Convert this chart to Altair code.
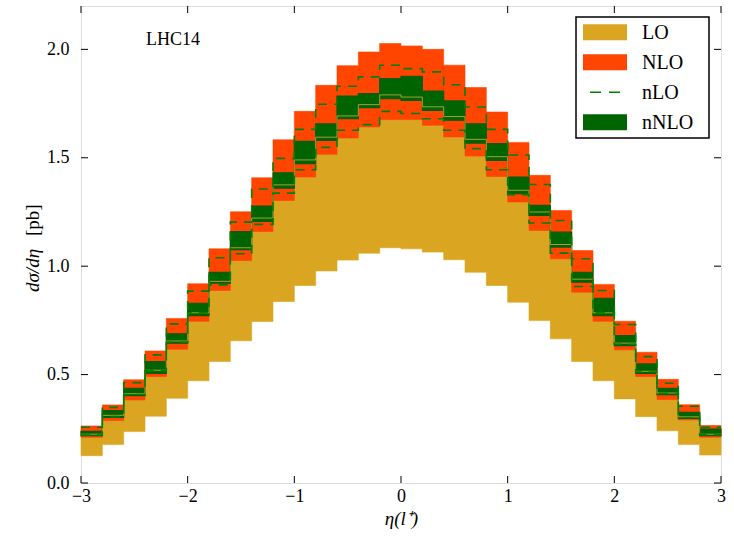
import altair as alt
import pandas as pd

# bin edges (eta), 30 bins of width 0.2
edges = [-3.0, -2.8, -2.6, -2.4, -2.2, -2.0, -1.8, -1.6, -1.4, -1.2, -1.0,
         -0.8, -0.6, -0.4, -0.2, 0.0, 0.2, 0.4, 0.6, 0.8, 1.0,
         1.2, 1.4, 1.6, 1.8, 2.0, 2.2, 2.4, 2.6, 2.8, 3.0]

LO_lo = [0.126, 0.177, 0.237, 0.308, 0.391, 0.472, 0.560, 0.656, 0.745, 0.837,
         0.911, 0.978, 1.028, 1.060, 1.085, 1.080, 1.065, 1.030, 0.972, 0.911,
         0.834, 0.749, 0.665, 0.560, 0.472, 0.388, 0.306, 0.241, 0.177, 0.129]
LO_hi = [0.225, 0.312, 0.412, 0.520, 0.655, 0.785, 0.930, 1.085, 1.222, 1.375,
         1.490, 1.595, 1.693, 1.745, 1.790, 1.780, 1.735, 1.690, 1.585, 1.505,
         1.350, 1.250, 1.100, 0.940, 0.785, 0.645, 0.515, 0.415, 0.305, 0.225]
NLO_lo = [0.211, 0.288, 0.383, 0.491, 0.617, 0.746, 0.888, 1.026, 1.160, 1.303,
          1.411, 1.516, 1.591, 1.642, 1.676, 1.676, 1.650, 1.596, 1.508, 1.414,
          1.296, 1.165, 1.034, 0.880, 0.746, 0.614, 0.491, 0.385, 0.291, 0.211]
NLO_hi = [0.263, 0.360, 0.476, 0.609, 0.759, 0.919, 1.080, 1.251, 1.408, 1.583,
          1.714, 1.834, 1.925, 1.988, 2.027, 2.016, 2.000, 1.927, 1.824, 1.711,
          1.571, 1.419, 1.257, 1.072, 0.916, 0.746, 0.603, 0.478, 0.361, 0.265]
nLO_lo = [0.221, 0.306, 0.408, 0.517, 0.649, 0.785, 0.914, 1.057, 1.193, 1.337,
          1.445, 1.548, 1.627, 1.653, 1.714, 1.704, 1.680, 1.627, 1.542, 1.445,
          1.330, 1.199, 1.060, 0.906, 0.785, 0.640, 0.512, 0.412, 0.301, 0.222]
nLO_hi = [0.257, 0.349, 0.463, 0.591, 0.734, 0.885, 1.039, 1.203, 1.356, 1.497,
          1.631, 1.747, 1.830, 1.873, 1.927, 1.911, 1.896, 1.837, 1.734, 1.631,
          1.513, 1.377, 1.211, 1.034, 0.888, 0.731, 0.583, 0.460, 0.354, 0.257]
nNLO_lo = [0.218, 0.303, 0.403, 0.506, 0.645, 0.772, 0.922, 1.076, 1.206, 1.360,
           1.473, 1.580, 1.680, 1.731, 1.773, 1.765, 1.719, 1.673, 1.568, 1.488,
           1.334, 1.234, 1.088, 0.926, 0.772, 0.634, 0.506, 0.408, 0.298, 0.218]
nNLO_hi = [0.238, 0.334, 0.437, 0.560, 0.688, 0.829, 0.971, 1.160, 1.277, 1.431,
           1.576, 1.657, 1.785, 1.796, 1.865, 1.876, 1.808, 1.762, 1.657, 1.565,
           1.411, 1.280, 1.157, 0.972, 0.852, 0.680, 0.549, 0.437, 0.326, 0.249]

x_ticks = [-3, -2, -1, 0, 1, 2, 3]
y_ticks = [0.0, 0.5, 1.0, 1.5, 2.0]

legend_labels = ["LO", "NLO", "nLO", "nNLO"]
C_LO, C_NLO, C_nLO, C_nNLO = "#DAA520", "#FF4500", "#008000", "#006400"

FONT = "Liberation Serif"
W, H = 640, 477


def ext(v):
    return list(v) + [v[-1]]


df = pd.DataFrame({
    "x": edges,
    "lo_lo": ext(LO_lo), "lo_hi": ext(LO_hi),
    "nlo_lo": ext(NLO_lo), "nlo_hi": ext(NLO_hi),
    "nl_lo": ext(nLO_lo), "nl_hi": ext(nLO_hi),
    "nn_lo": ext(nNLO_lo), "nn_hi": ext(nNLO_hi),
})

xscale = alt.Scale(domain=[-3, 3], nice=False, zero=False)
yscale = alt.Scale(domain=[0, 2.2], nice=False, zero=True)
xaxis = alt.Axis(values=x_ticks, format="d", ticks=False, tickSize=0, domain=False,
                 grid=False, labelFont=FONT, labelFontSize=18, labelPadding=4,
                 labelFlush=False, labelOverlap=False, labelColor="black",
                 titleFont=FONT, titleFontSize=19, titleFontWeight="normal",
                 titleFontStyle="italic", titlePadding=4, titleColor="black")
yaxis = alt.Axis(values=y_ticks, format=".1f", ticks=False, tickSize=0, domain=False,
                 grid=False, labelFont=FONT, labelFontSize=18, labelPadding=12,
                 labelFlush=False, labelOverlap=False, labelColor="black",
                 title=None)
XT = "η(l⁺)"


def X(f="x"):
    return alt.X(f, type="quantitative", scale=xscale, axis=xaxis, title=XT)


def Y(f):
    return alt.Y(f, type="quantitative", scale=yscale, axis=yaxis, title=None)


base = alt.Chart(df)

lo = base.mark_area(interpolate="step-after", color=C_LO, stroke=C_LO,
                    strokeWidth=0.6).encode(x=X(), y=Y("lo_lo"), y2="lo_hi")
nlo = base.mark_area(interpolate="step-after", color=C_NLO, stroke=C_NLO,
                     strokeWidth=0.6).encode(x=X(), y=Y("nlo_lo"), y2="nlo_hi")
nn = base.mark_area(interpolate="step-after", color=C_nNLO, stroke="#0f5a00",
                    strokeWidth=1.2).encode(x=X(), y=Y("nn_lo"), y2="nn_hi")
lo_edge = base.mark_line(interpolate="step-after", color="#c9b040", strokeWidth=1,
                         opacity=0.8).encode(x=X(), y=Y("lo_hi"))
nl_up = base.mark_line(interpolate="step-after", color=C_nLO, strokeWidth=1.6,
                       strokeDash=[9, 7]).encode(x=X(), y=Y("nl_hi"))
nl_dn = base.mark_line(interpolate="step-after", color=C_nLO, strokeWidth=1.6,
                       strokeDash=[9, 7]).encode(x=X(), y=Y("nl_lo"))

# inward tick marks on all four sides
xt = alt.Chart(pd.DataFrame({"t": x_ticks}))
yt = alt.Chart(pd.DataFrame({"t": y_ticks}))
TL = 7
tick_b = xt.mark_rule(color="black", strokeWidth=1).encode(
    x=X("t"), y=alt.value(H), y2=alt.value(H - TL))
tick_t = xt.mark_rule(color="black", strokeWidth=1).encode(
    x=X("t"), y=alt.value(0), y2=alt.value(TL))
tick_l = yt.mark_rule(color="black", strokeWidth=1).encode(
    y=Y("t"), x=alt.value(0), x2=alt.value(TL))
tick_r = yt.mark_rule(color="black", strokeWidth=1).encode(
    y=Y("t"), x=alt.value(W), x2=alt.value(W - TL))

label = alt.Chart(pd.DataFrame({"x": [-2.39], "y": [2.042], "t": ["LHC14"]})).mark_text(
    align="left", baseline="middle", font=FONT, fontSize=18, color="black").encode(
    x=X(), y=Y("y"), text="t:N")

one = alt.Chart(pd.DataFrame({"a": [0]}))

# y-axis title: italic math part and upright unit
ytitle = [
    one.mark_text(align="left", baseline="middle", angle=270, font=FONT, fontSize=19,
                  fontStyle="italic", color="black", text="dσ/dη").encode(
        x=alt.value(-48), y=alt.value(286)),
    one.mark_text(align="left", baseline="middle", angle=270, font=FONT, fontSize=19,
                  color="black", text="[pb]").encode(
        x=alt.value(-48), y=alt.value(230)),
]

# legend box
leg = [one.mark_rect(fill="white", stroke="black", strokeWidth=1.5).encode(
    x=alt.value(495), x2=alt.value(628), y=alt.value(11), y2=alt.value(132))]
rows = [26.3, 56.3, 86.3, 116.3]
cols = [C_LO, C_NLO, None, C_nNLO]
for lab, yc, c in zip(legend_labels, rows, cols):
    if c is None:
        leg.append(one.mark_rule(color=C_nLO, strokeWidth=1.6, strokeDash=[11, 8]).encode(
            x=alt.value(509), x2=alt.value(539), y=alt.value(yc)))
    else:
        leg.append(one.mark_rect(fill=c).encode(
            x=alt.value(502), x2=alt.value(546), y=alt.value(yc - 8), y2=alt.value(yc + 8)))
    leg.append(one.mark_text(align="left", baseline="middle", font=FONT, fontSize=20,
                             color="black", text=lab).encode(
        x=alt.value(561), y=alt.value(yc + 1)))

chart = alt.layer(lo, nlo, nn, lo_edge, nl_up, nl_dn, tick_b, tick_t, tick_l, tick_r,
                  label, *ytitle, *leg).properties(
    width=W, height=H,
    autosize=alt.AutoSizeParams(type="none"),
    padding={"left": 81, "top": 6, "right": 13, "bottom": 53},
).configure_view(stroke="black", strokeWidth=1.6).configure(background="white")

chart.save("out.html", embed_options={"renderer": "svg", "actions": False})
